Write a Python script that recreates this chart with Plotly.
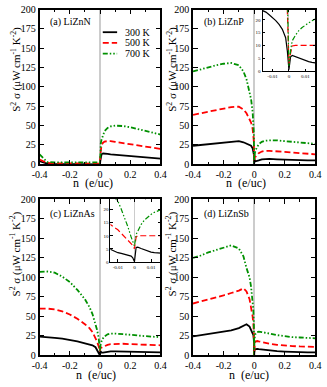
import plotly.graph_objects as go

# carrier concentration grid (e/uc) for the main panels
n_main = [-0.4, -0.35, -0.3, -0.25, -0.2, -0.15, -0.1, -0.07, -0.05, -0.03, -0.02, -0.01,
          -0.005, -0.002, 0.0, 0.002, 0.005, 0.01, 0.02, 0.03, 0.05, 0.07, 0.1, 0.15,
          0.2, 0.25, 0.3, 0.35, 0.4]
# finer grid for the insets
n_inset = [-0.016, -0.014, -0.012, -0.01, -0.008, -0.006, -0.004, -0.002, -0.001, 0.0,
           0.001, 0.002, 0.004, 0.006, 0.008, 0.01, 0.012, 0.014, 0.016]

# (a) LiZnN
lizn_n_300 = [4, 1, 0.5, 0.5, 0.5, 0.5, 0.5, 0.5, 0.5, 0.5, 0.5, 0.5, 0.4, 0.3, 0,
              5, 10, 13, 14, 14, 13.5, 13, 12.5, 11.5, 10.5, 9.5, 8.8, 8, 7.5]
lizn_n_500 = [6, 2, 1.2, 1, 1, 1, 1, 1, 1, 1, 1, 1, 1, 1, 0.5,
              12, 20, 25, 28, 29.5, 30, 30, 29, 27.5, 26, 24.5, 23, 21.5, 20]
lizn_n_700 = [13, 3, 2.5, 2.5, 2.5, 2.5, 2.5, 2.5, 2.5, 2.5, 2.5, 2.5, 2.5, 2.5, 1,
              20, 27, 32, 38, 43, 47, 49, 50, 49.5, 48, 45.5, 43, 41, 38.5]

# (b) LiZnP
lizn_p_300 = [24, 25, 26, 27, 28, 29, 30, 28.5, 27, 25, 24, 20.8, 17, 13, 0.5,
              5.8, 5.0, 3.9, 4, 5, 6.5, 7, 7, 6.5, 6, 5.7, 5.4, 5.2, 5]
lizn_p_500 = [64, 66, 68, 70, 72, 74, 74.5, 71, 66, 58, 54, 46, 38, 30, 3,
              9.8, 10, 10, 12, 14.5, 16.5, 17.3, 17.5, 16.8, 16, 15, 14, 13.5, 13]
lizn_p_700 = [120, 123, 126, 128, 130, 131, 128, 120, 110, 94, 84, 68, 55, 40, 2,
              11.8, 15, 18.5, 23, 26, 29, 30.5, 31, 31, 30, 29, 28, 27, 26.5]
inset_p_300 = [23.6, 23, 22, 21, 19.7, 18.2, 16.3, 13, 8, 0.5,
               5.6, 6.1, 5.6, 5.0, 4.5, 4.0, 3.7, 3.4, 3.2]
inset_p_500 = [50, 49, 47.5, 46, 44, 41, 37, 30, 24, 3,
               7, 9.8, 10, 10, 10, 10, 10, 10, 10]
inset_p_700 = [78, 76, 72, 68, 64, 60, 52, 40, 30, 2,
               8, 11.8, 14, 15.8, 17, 18, 18.8, 19.6, 20.3]

# (c) LiZnAs
lizn_as_300 = [24, 23.5, 22.5, 21.5, 20, 18, 15.5, 14, 13, 10.5, 7, 3.5, 2.8, 2.2, 0,
               5.6, 4.8, 3.6, 3.5, 4, 5, 5.3, 5.3, 5, 4.7, 4.5, 4.3, 4.2, 4]
lizn_as_500 = [60, 60, 59, 56.5, 52.5, 47, 40, 35, 30, 23, 18, 12.3, 9.2, 7, 5,
               10, 10, 10, 11, 12, 13.5, 14.5, 15, 15, 14.5, 14, 13.5, 13.2, 13]
lizn_as_700 = [107, 107.5, 106, 101, 94, 84, 72, 62, 53, 41, 33, 23.3, 15, 9.5, 6,
               12, 15.4, 18.2, 22, 24.5, 27, 28, 28, 27.5, 26.5, 25.5, 24.5, 24, 23.5]
inset_as_300 = [5.2, 4.6, 4.0, 3.5, 3.2, 2.9, 2.7, 2.2, 1.5, 0,
                5.5, 5.6, 5.1, 4.6, 4.1, 3.7, 3.5, 3.3, 3.3]
inset_as_500 = [15, 13.9, 13.1, 12.3, 11, 9.6, 8.3, 7, 6.3, 5,
                9.5, 10, 10, 10, 10, 10, 10, 10, 10]
inset_as_700 = [30, 27, 25.5, 23.3, 20.3, 17, 13.5, 9.5, 7.8, 6,
                10.5, 12, 14.3, 16, 17.2, 18.2, 19, 19.6, 20]

# (d) LiZnSb
lizn_sb_300 = [24.5, 26, 27.5, 29, 30.5, 32, 35, 37.5, 40, 37, 33, 30, 26, 20, 0,
               6, 8, 8.5, 8.5, 8, 7.5, 7, 6.5, 5.5, 5, 4.5, 4.2, 4, 4]
lizn_sb_500 = [66.5, 69, 71.5, 74, 77, 80, 83, 86, 82, 72, 63, 50, 40, 30, 0,
               12, 16, 18, 18.5, 18, 17, 16, 15, 13.5, 12.5, 12, 11.5, 11, 11]
lizn_sb_700 = [125, 128, 132, 135, 138, 141, 137, 127, 112, 100, 88, 72, 58, 42, 0,
               18, 25, 28, 30, 30.5, 30, 29, 28, 26, 24.5, 23.5, 23, 22.5, 22]

temps = ['300 K', '500 K', '700 K']
colors = ['#000000', '#ff0000', '#009000']
dashes = ['solid', '6px,3px', '5px,2px,1.5px,2px,1.5px,2px']

W, H = 327, 387
FONT = 'Liberation Serif'


def px_x(p):
    return p / W


def px_y(p):
    return 1 - p / H


fig = go.Figure()

panels = [
    ('x', 'y', n_main, [lizn_n_300, lizn_n_500, lizn_n_700]),
    ('x2', 'y2', n_main, [lizn_p_300, lizn_p_500, lizn_p_700]),
    ('x3', 'y3', n_main, [lizn_as_300, lizn_as_500, lizn_as_700]),
    ('x4', 'y4', n_main, [lizn_sb_300, lizn_sb_500, lizn_sb_700]),
    ('x5', 'y5', n_inset, [inset_p_300, inset_p_500, inset_p_700]),
    ('x6', 'y6', n_inset, [inset_as_300, inset_as_500, inset_as_700]),
]

for xa, ya, nn, series in panels:
    inset = xa in ('x5', 'x6')
    for vals, t, c, d in zip(series, temps, colors, dashes):
        fig.add_trace(go.Scatter(
            x=nn, y=vals, xaxis=xa, yaxis=ya, mode='lines', name=t,
            line=dict(color=c, dash=d, width=1.2 if inset else 1.8),
            showlegend=False
        ))

main_axis = dict(
    showline=True, linecolor='black', linewidth=1.5, mirror='ticks',
    ticks='inside', ticklen=5, tickwidth=1.2, tickcolor='black',
    showgrid=False, tickfont=dict(family=FONT, size=10, color='black'),
)

x_main = dict(main_axis, range=[-0.4, 0.4], tickvals=[-0.4, -0.2, 0, 0.2, 0.4],
              ticktext=['-0.4', '-0.2', '0', '0.2', '0.4'],
              zeroline=True, zerolinecolor='#cccccc', zerolinewidth=1.5,
              minor=dict(ticks='inside', ticklen=3, dtick=0.1, tickcolor='black'))
y_main = dict(main_axis, range=[0, 200], dtick=25, zeroline=False)

inset_axis = dict(
    showline=True, linecolor='black', linewidth=1, mirror='ticks',
    ticks='inside', ticklen=2.5, tickwidth=0.8, tickcolor='black',
    showgrid=False, tickfont=dict(family=FONT, size=5, color='black'),
)
x_in = dict(inset_axis, tickvals=[-0.01, 0, 0.01], ticktext=['-0.01', '0', '0.01'],
            zeroline=True, zerolinecolor='#cccccc', zerolinewidth=1)
y_in = dict(inset_axis, range=[0, 24], tickvals=[0, 5, 10, 15, 20], zeroline=False)

# panel boxes in pixels
left_dom = [px_x(33), px_x(159.3)]
right_dom = [px_x(193.3), px_x(321)]
top_dom = [px_y(164), px_y(4.7)]
bot_dom = [px_y(360.7), px_y(200)]

fig.update_layout(
    width=W, height=H,
    margin=dict(l=0, r=0, t=0, b=0),
    paper_bgcolor='white', plot_bgcolor='white',
    font=dict(family=FONT, color='black'),
    xaxis=dict(x_main, domain=left_dom, anchor='y'),
    yaxis=dict(y_main, domain=top_dom, anchor='x'),
    xaxis2=dict(x_main, domain=right_dom, anchor='y2'),
    yaxis2=dict(y_main, domain=top_dom, anchor='x2'),
    xaxis3=dict(x_main, domain=left_dom, anchor='y3'),
    yaxis3=dict(y_main, domain=bot_dom, anchor='x3'),
    xaxis4=dict(x_main, domain=right_dom, anchor='y4'),
    yaxis4=dict(y_main, domain=bot_dom, anchor='x4'),
    xaxis5=dict(x_in, range=[-0.016, 0.016], domain=[px_x(266), px_x(321)], anchor='y5'),
    yaxis5=dict(y_in, domain=[px_y(68), px_y(4.7)], anchor='x5'),
    xaxis6=dict(x_in, range=[-0.0145, 0.0157], domain=[px_x(107), px_x(159.3)], anchor='y6'),
    yaxis6=dict(y_in, domain=[px_y(264.3), px_y(200)], anchor='x6'),
)

ytitle = 'S<sup>2</sup> σ (μW cm<sup>-1</sup> K<sup>-2</sup>)'
xtitle = 'n  (e/uc)'
annotations = []
for cx, cy in [(8, 66), (171, 66), (8, 256), (171, 256)]:
    annotations.append(dict(text=ytitle, textangle=-90, x=px_x(cx), y=px_y(cy),
                            xanchor='center', yanchor='middle',
                            xref='paper', yref='paper', showarrow=False,
                            font=dict(family=FONT, size=11)))
for cx, cy in [(89, 183), (249, 183), (92, 381), (252, 381)]:
    annotations.append(dict(text=xtitle, x=px_x(cx), y=px_y(cy),
                            xanchor='center', yanchor='middle',
                            xref='paper', yref='paper', showarrow=False,
                            font=dict(family=FONT, size=12)))
for lbl, lx, ly in [('(a) LiZnN', 42, 18), ('(b) LiZnP', 203, 18),
                    ('(c) LiZnAs', 42, 215), ('(d) LiZnSb', 203, 215)]:
    annotations.append(dict(text=lbl, x=px_x(lx), y=px_y(ly),
                            xanchor='left', yanchor='middle',
                            xref='paper', yref='paper', showarrow=False,
                            font=dict(family=FONT, size=10)))

# legend in panel (a)
shapes = []
for i, (t, c, d) in enumerate(zip(temps, colors, dashes)):
    yy = px_y(28 + 11 * i)
    shapes.append(dict(type='line', xref='paper', yref='paper',
                       x0=px_x(99), x1=px_x(114), y0=yy, y1=yy,
                       line=dict(color=c, dash=d, width=1.8)))
    annotations.append(dict(text=t, x=px_x(120), y=yy,
                            xanchor='left', yanchor='middle',
                            xref='paper', yref='paper', showarrow=False,
                            font=dict(family=FONT, size=10)))

fig.update_layout(annotations=annotations, shapes=shapes)

# drop the default page margin so the figure sits at the window's corner
fig.write_html("out.html", config={'displayModeBar': False},
               post_script="document.body.style.margin='0';")
